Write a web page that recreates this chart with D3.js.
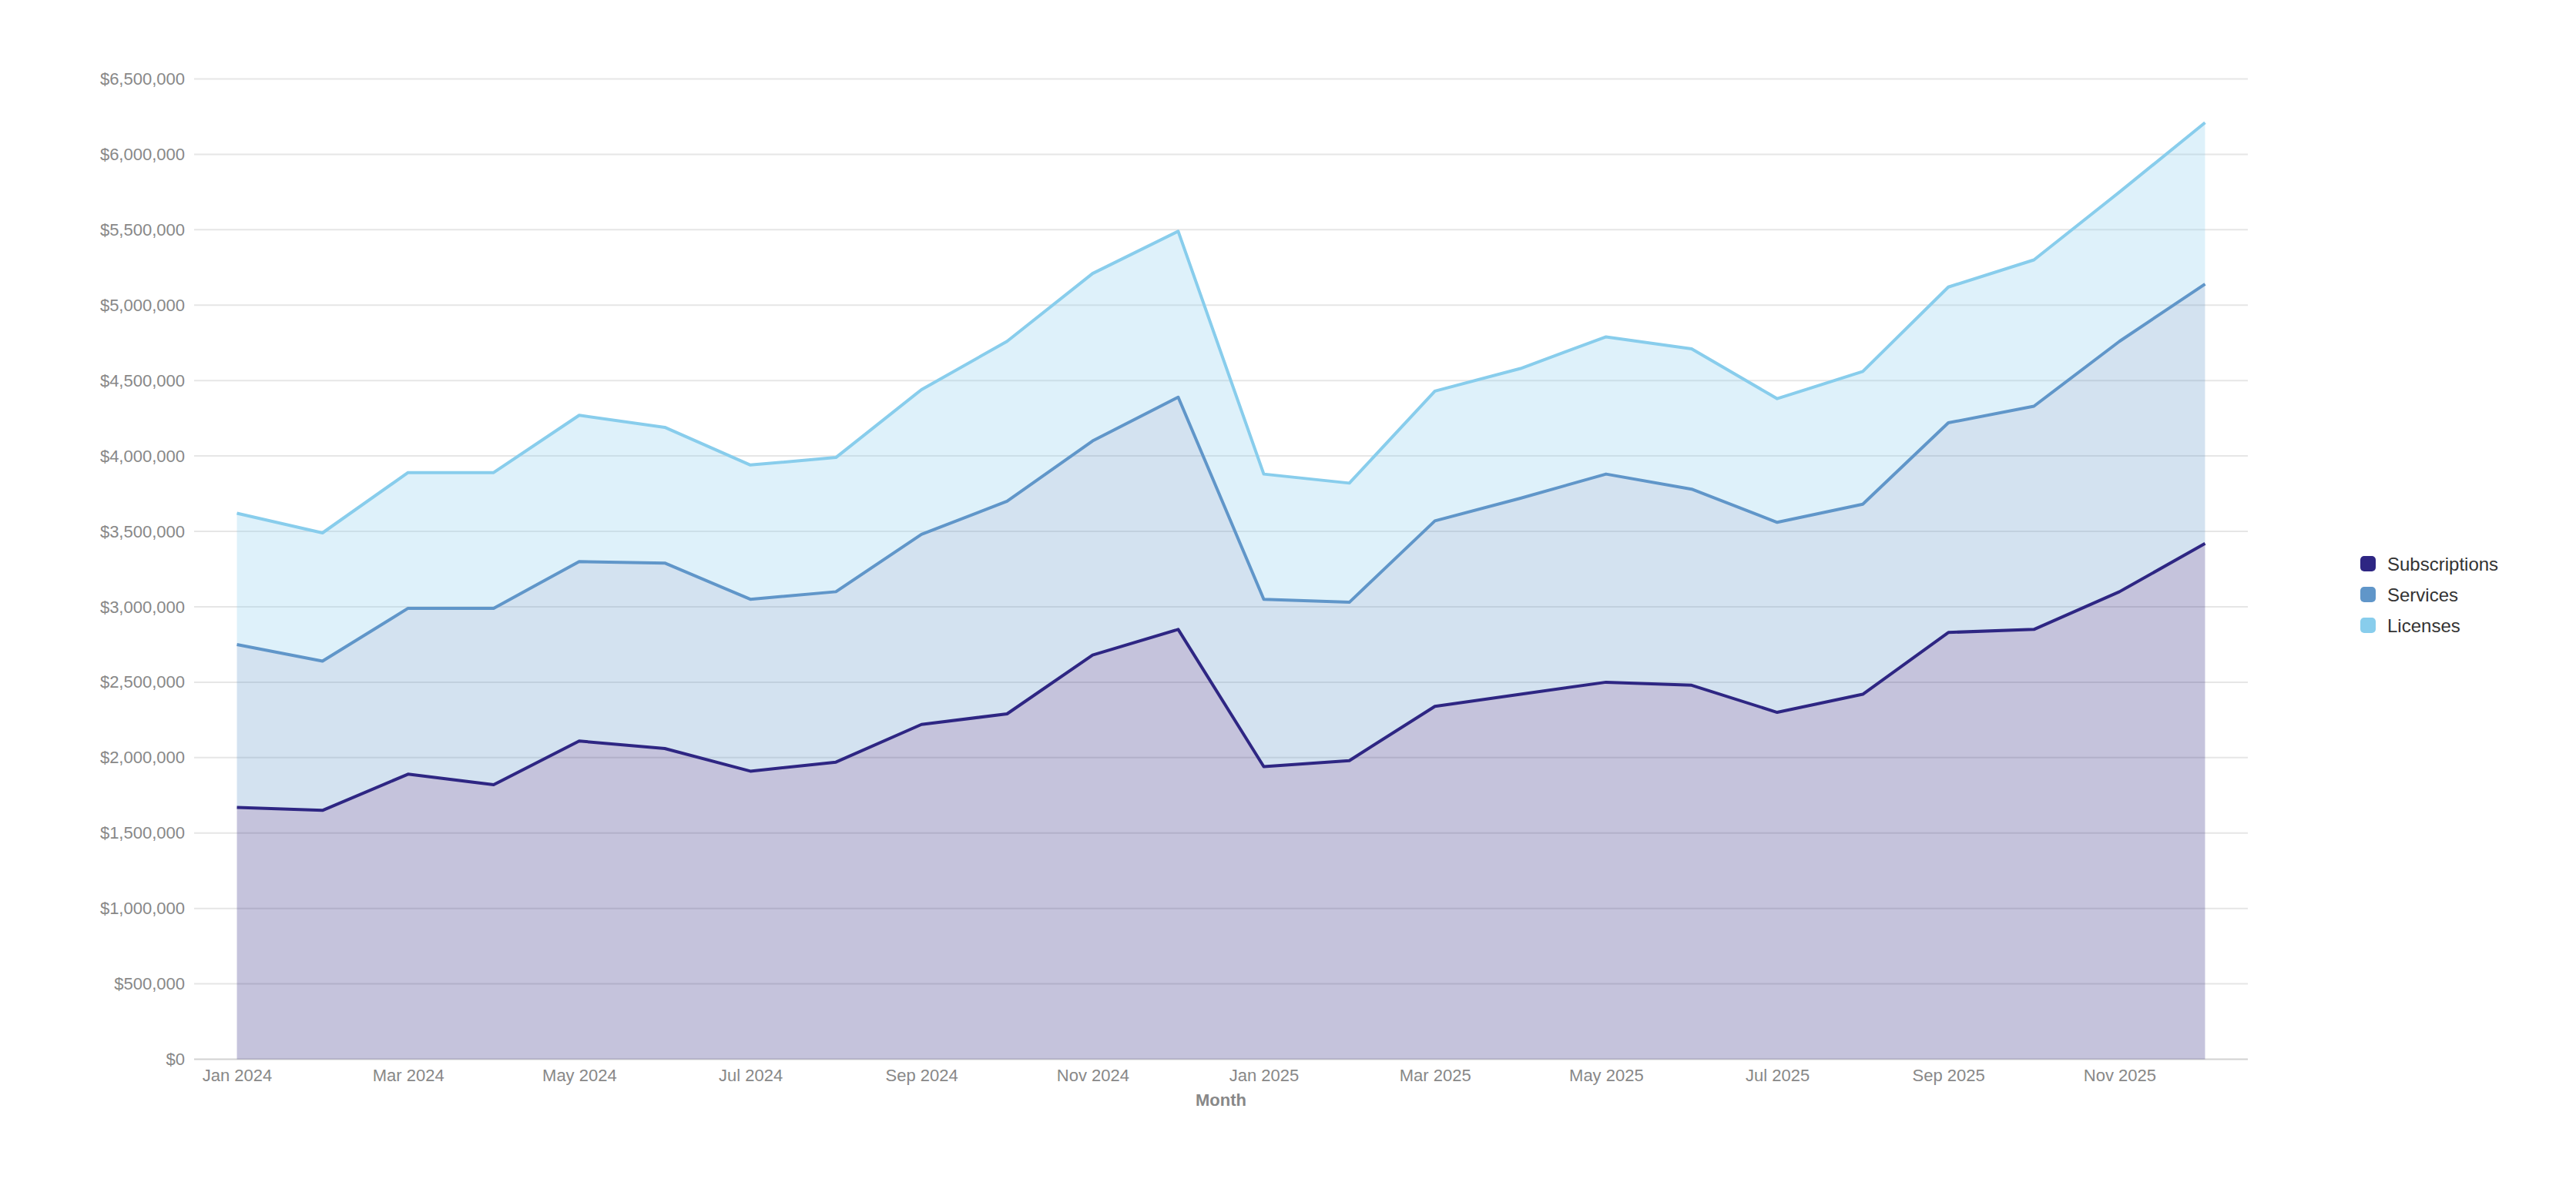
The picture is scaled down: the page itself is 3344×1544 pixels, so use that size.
<!DOCTYPE html>
<html>
<head>
<meta charset="utf-8">
<script src="https://cdn.jsdelivr.net/npm/d3@7"></script>
<style>
  html, body { margin: 0; padding: 0; background: #fff; }
  svg { display: block; font-family: "Liberation Sans", Arial, Helvetica, sans-serif; }
</style>
</head>
<body>
<svg id="chart" width="3344" height="1544"></svg>
<script>
const months = ["2024-01","2024-02","2024-03","2024-04","2024-05","2024-06","2024-07","2024-08","2024-09","2024-10","2024-11","2024-12",
                "2025-01","2025-02","2025-03","2025-04","2025-05","2025-06","2025-07","2025-08","2025-09","2025-10","2025-11","2025-12"];
const seriesNames = ["Subscriptions", "Services", "Licenses"];
const subscriptions = [1670000,1650000,1890000,1820000,2110000,2060000,1910000,1970000,2220000,2290000,2680000,2850000,
                       1940000,1980000,2340000,2420000,2500000,2480000,2300000,2420000,2830000,2850000,3100000,3420000];
const services = [1080000,990000,1100000,1170000,1190000,1230000,1140000,1130000,1260000,1410000,1420000,1540000,
                  1110000,1050000,1230000,1300000,1380000,1300000,1260000,1260000,1390000,1480000,1660000,1720000];
const licenses = [870000,850000,900000,900000,970000,900000,890000,890000,960000,1060000,1110000,1100000,
                  830000,790000,860000,860000,910000,930000,820000,880000,900000,970000,990000,1070000];
const yTicks = [0,500000,1000000,1500000,2000000,2500000,3000000,3500000,4000000,4500000,5000000,5500000,6000000,6500000];
const colors = ["#2e2683", "#6096c9", "#88cdec"];

const svg = d3.select("#chart");
const mLeft = 252, mRight = 2918, mTop = 102.5, mBottom = 1375.5;

const parse = d3.timeParse("%Y-%m");
const fmtMonth = d3.timeFormat("%b %Y");

const table = months.map((m, i) => ({
  month: m,
  Subscriptions: subscriptions[i],
  Services: services[i],
  Licenses: licenses[i]
}));
const stacked = d3.stack().keys(seriesNames)(table);

const x = d3.scalePoint().domain(months).range([mLeft, mRight]).padding(0.5);
const y = d3.scaleLinear().domain([0, 6500000]).range([mBottom, mTop]);

// gridlines
const grid = svg.append("g");
grid.selectAll("line").data(yTicks).join("line")
  .attr("x1", mLeft).attr("x2", mRight)
  .attr("y1", d => y(d)).attr("y2", d => y(d))
  .attr("stroke", d => d === 0 ? "#d2d2d2" : "#e6e6e6")
  .attr("stroke-width", 2);

// y axis labels
const yAxis = d3.axisLeft(y).tickValues(yTicks).tickSize(0).tickPadding(0)
  .tickFormat(d => "$" + d3.format(",")(d));
const yg = svg.append("g").attr("transform", `translate(${mLeft - 12},0)`).call(yAxis);
yg.select(".domain").remove();
yg.selectAll("text").attr("font-size", 22).attr("fill", "#888").attr("font-family", "Liberation Sans, Arial, sans-serif");

// x axis labels
const xAxis = d3.axisBottom(x).tickValues(months.filter((m, i) => i % 2 === 0))
  .tickSize(0).tickPadding(0).tickFormat(m => fmtMonth(parse(m)));
const xg = svg.append("g").attr("transform", `translate(0,${mBottom + 13})`).call(xAxis);
xg.select(".domain").remove();
xg.selectAll("text").attr("font-size", 22).attr("fill", "#888").attr("dy", "0.71em").attr("font-family", "Liberation Sans, Arial, sans-serif");

svg.append("text")
  .attr("x", (mLeft + mRight) / 2).attr("y", 1428)
  .attr("text-anchor", "middle").attr("dominant-baseline", "central")
  .attr("font-size", 22).attr("font-weight", "bold").attr("fill", "#888")
  .text("Month");

// areas
const area = d3.area()
  .x(d => x(d.data.month))
  .y0(d => y(d[0]))
  .y1(d => y(d[1]));
const line = d3.line()
  .x(d => x(d.data.month))
  .y(d => y(d[1]));

svg.append("g").selectAll("path").data(stacked).join("path")
  .attr("d", area)
  .attr("fill", (d, i) => colors[i])
  .attr("fill-opacity", 0.28);

svg.append("g").selectAll("path").data(stacked).join("path")
  .attr("d", line)
  .attr("fill", "none")
  .attr("stroke", (d, i) => colors[i])
  .attr("stroke-width", 4)
  .attr("stroke-linejoin", "round");

// legend
const legend = svg.append("g");
const items = legend.selectAll("g").data(seriesNames).join("g")
  .attr("transform", (d, i) => `translate(3064,${732 + i * 40})`);
items.append("rect")
  .attr("x", 0).attr("y", -10).attr("width", 20).attr("height", 20)
  .attr("rx", 5).attr("fill", (d, i) => colors[i]);
items.append("text")
  .attr("x", 35).attr("y", 0).attr("dominant-baseline", "central")
  .attr("font-size", 24).attr("fill", "#333")
  .text(d => d);
</script>
</body>
</html>
